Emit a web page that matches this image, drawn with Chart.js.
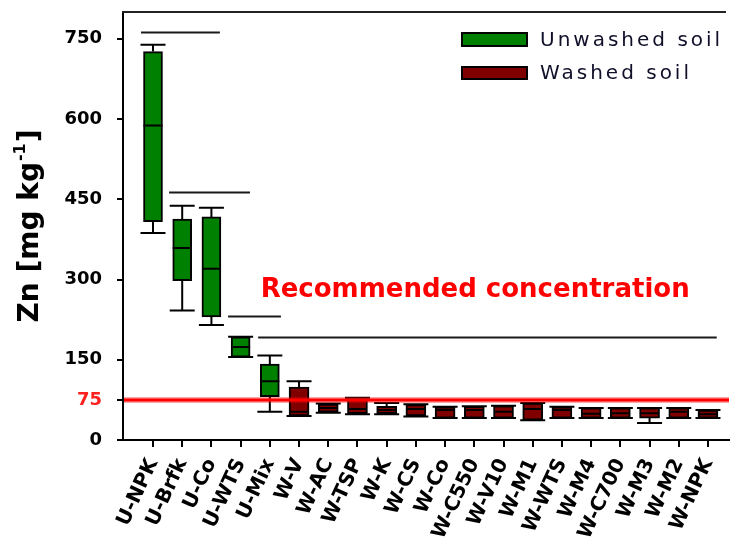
<!DOCTYPE html>
<html>
<head>
<meta charset="utf-8">
<script src="https://cdn.jsdelivr.net/npm/chart.js@4/dist/chart.umd.min.js"></script>
<style>
  html, body { margin: 0; padding: 0; background: #fff; }
  #wrap { width: 730px; height: 551px; }
</style>
</head>
<body>
<div id="wrap"><canvas id="c" width="730" height="551"></canvas></div>
<script>
// Zn concentrations per treatment (box plot statistics, mg kg-1)
const categories = ['U-NPK','U-Brfk','U-Co','U-WTS','U-Mix','W-V','W-AC','W-TSP','W-K','W-CS',
                    'W-Co','W-C550','W-V10','W-M1','W-WTS','W-M4','W-C700','W-M3','W-M2','W-NPK'];
const whiskerLow  = [387, 242, 215, 155,  53, 45, 51, 48, 48, 44, 41, 41, 41, 37, 41, 41, 41, 32, 41, 41];
const q1          = [408, 298, 230, 155,  81, 45, 52, 49, 49, 45, 41, 41, 41, 37, 41, 41, 41, 41, 41, 41];
const median      = [588, 359, 320, 174, 110, 53, 60, 58, 56, 58, 56, 56, 53, 58, 56, 49, 50, 50, 53, 48];
const q3          = [726, 413, 417, 193, 142, 99, 67, 77, 63, 66, 62, 63, 64, 69, 62, 60, 60, 60, 60, 56];
const whiskerHigh = [739, 438, 434, 193, 158, 110, 68, 79, 69, 67, 62, 63, 64, 69, 62, 60, 60, 60, 60, 56];

// Group significance bars: start/end category position and level
const sigFrom  = [-0.41, 0.55, 2.57, 3.60];
const sigTo    = [ 2.29, 3.32, 4.38, 19.30];
const sigLevel = [763, 464, 232, 193];

const yTicks = [0, 75, 150, 300, 450, 600, 750];
const recommended = 75;
const seriesNames = ['Unwashed soil', 'Washed soil'];

const GREEN = '#008000';
const DARKRED = '#800000';
const TICK_FONT = 'DejaVu Sans';

function boxData(prefix) {
  const out = [];
  categories.forEach((c, i) => {
    if (c.startsWith(prefix)) out.push({ x: i, y: [q1[i], q3[i]] });
  });
  return out;
}

const decorations = {
  id: 'boxDecorations',
  afterDatasetsDraw(chart) {
    const { ctx, scales: { x, y }, chartArea } = chart;
    ctx.save();
    ctx.lineCap = 'butt';

    // significance bars
    ctx.strokeStyle = '#1a1a1a';
    ctx.lineWidth = 2;
    sigLevel.forEach((lv, k) => {
      const py = Math.round(y.getPixelForValue(lv)) + 0.5;
      ctx.beginPath();
      ctx.moveTo(x.getPixelForValue(sigFrom[k]), py);
      ctx.lineTo(x.getPixelForValue(sigTo[k]), py);
      ctx.stroke();
    });

    // whiskers, caps and medians
    ctx.strokeStyle = '#000';
    ctx.lineWidth = 2;
    const halfBox = 9.5, halfCap = 12.5;
    categories.forEach((c, i) => {
      const cx = x.getPixelForValue(i);
      const yHi = y.getPixelForValue(whiskerHigh[i]);
      const yQ3 = y.getPixelForValue(q3[i]);
      const yQ1 = y.getPixelForValue(q1[i]);
      const yLo = y.getPixelForValue(whiskerLow[i]);
      const yMed = y.getPixelForValue(median[i]);
      ctx.beginPath();
      if (yHi < yQ3) { ctx.moveTo(cx, yQ3); ctx.lineTo(cx, yHi); }
      if (yLo > yQ1) { ctx.moveTo(cx, yQ1); ctx.lineTo(cx, yLo); }
      ctx.moveTo(cx - halfCap, yHi); ctx.lineTo(cx + halfCap, yHi);
      ctx.moveTo(cx - halfCap, yLo); ctx.lineTo(cx + halfCap, yLo);
      ctx.moveTo(cx - halfBox, yMed); ctx.lineTo(cx + halfBox, yMed);
      ctx.stroke();
    });

    // recommended concentration line
    const ry = y.getPixelForValue(recommended);
    ctx.strokeStyle = 'rgba(255,0,0,0.35)';
    ctx.lineWidth = 6;
    ctx.beginPath(); ctx.moveTo(chartArea.left + 1, ry); ctx.lineTo(chartArea.right, ry); ctx.stroke();
    ctx.strokeStyle = '#ff0000';
    ctx.lineWidth = 3;
    ctx.beginPath(); ctx.moveTo(chartArea.left + 1, ry); ctx.lineTo(chartArea.right, ry); ctx.stroke();

    ctx.fillStyle = '#ff0000';
    ctx.font = 'bold 26px "DejaVu Sans"';
    ctx.textAlign = 'center';
    ctx.textBaseline = 'middle';
    ctx.fillText('Recommended concentration', x.getPixelForValue(11.03), y.getPixelForValue(280));

    ctx.restore();
  },
  afterDraw(chart) {
    const { ctx, chartArea } = chart;
    ctx.save();
    // top frame line
    ctx.strokeStyle = '#222';
    ctx.lineWidth = 2;
    ctx.beginPath();
    ctx.moveTo(chartArea.left - 1, chartArea.top);
    ctx.lineTo(chartArea.right - 3, chartArea.top);
    ctx.stroke();

    // legend
    const colors = [GREEN, DARKRED];
    const rows = [{ y: 33, h: 13 }, { y: 67, h: 12 }];
    ctx.font = '20px "DejaVu Sans"';
    ctx.textAlign = 'left';
    ctx.textBaseline = 'middle';
    ctx.letterSpacing = '3px';
    rows.forEach((r, k) => {
      ctx.fillStyle = colors[k];
      ctx.fillRect(462, r.y, 65, r.h);
      ctx.strokeStyle = '#000';
      ctx.lineWidth = 2;
      ctx.strokeRect(462, r.y, 65, r.h);
      ctx.fillStyle = '#10102a';
      ctx.fillText(chart.data.datasets[k].label, 540, r.y + r.h / 2 + 1);
    });
    ctx.letterSpacing = '0px';

    // y axis title with superscript
    ctx.translate(31, 226);
    ctx.rotate(-Math.PI / 2);
    ctx.fillStyle = '#000';
    ctx.textBaseline = 'middle';
    const big = 'bold 28px "DejaVu Sans"', small = 'bold 16px "DejaVu Sans"';
    const p1 = 'Zn [mg kg', sup = '-1', p3 = ']';
    ctx.font = big; const w1 = ctx.measureText(p1).width, w3 = ctx.measureText(p3).width;
    ctx.font = small; const w2 = ctx.measureText(sup).width;
    let sx = -(w1 + w2 + w3 + 2) / 2;
    ctx.font = big; ctx.fillText(p1, sx, 0); sx += w1 + 1;
    ctx.font = small; ctx.fillText(sup, sx, -10); sx += w2 + 1;
    ctx.font = big; ctx.fillText(p3, sx, 0);
    ctx.restore();
  }
};

function noScalePadding(s) {
  s.paddingTop = 0; s.paddingBottom = 0; s.paddingLeft = 0; s.paddingRight = 0;
}

new Chart(document.getElementById('c'), {
  type: 'bar',
  data: {
    datasets: [
      { label: seriesNames[0], data: boxData('U-'), backgroundColor: GREEN, borderColor: '#000',
        borderWidth: 2, borderSkipped: false, barThickness: 19, grouped: false },
      { label: seriesNames[1], data: boxData('W-'), backgroundColor: DARKRED, borderColor: '#000',
        borderWidth: 2, borderSkipped: false, barThickness: 20, grouped: false }
    ]
  },
  options: {
    responsive: false,
    animation: false,
    layout: { padding: { left: 0, top: 12, right: 1, bottom: 0 } },
    plugins: { legend: { display: false }, tooltip: { enabled: false } },
    scales: {
      x: {
        type: 'linear',
        offset: false,
        min: -1.027,
        max: 19.72,
        afterBuildTicks: (s) => { s.ticks = categories.map((c, i) => ({ value: i })); },
        afterFit: (s) => { s.height = 111; noScalePadding(s); },
        border: { display: true, color: '#000', width: 2 },
        grid: { display: true, drawOnChartArea: false, drawTicks: true, tickLength: 7, color: '#000', lineWidth: 2, offset: false },
        ticks: {
          autoSkip: false,
          minRotation: 65, maxRotation: 65,
          padding: 8,
          color: '#000',
          font: { family: TICK_FONT, size: 20, weight: 'bold' },
          callback: (v) => categories[v]
        }
      },
      y: {
        min: 0,
        max: 800,
        afterBuildTicks: (s) => { s.ticks = yTicks.map(v => ({ value: v })); },
        afterFit: (s) => { s.width = 123; noScalePadding(s); },
        border: { display: true, color: '#000', width: 2 },
        grid: { display: true, drawOnChartArea: false, drawTicks: true, tickLength: 6, color: '#000', lineWidth: 2 },
        ticks: {
          padding: 15,
          color: (c) => (c.tick && c.tick.value === recommended ? '#ff2020' : '#000'),
          font: { family: TICK_FONT, size: 18, weight: 'bold' }
        }
      }
    }
  },
  plugins: [decorations]
});
</script>
</body>
</html>
